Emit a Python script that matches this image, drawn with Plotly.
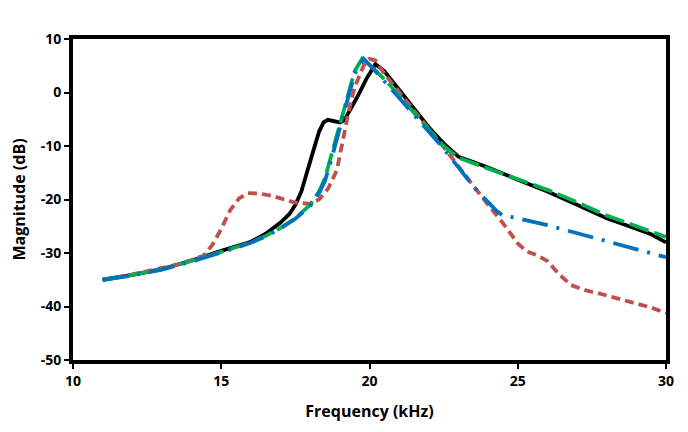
import plotly.graph_objects as go

# Black solid series
black_f = [11, 12, 13, 14, 15, 15.5, 16, 16.5, 17, 17.3, 17.5, 17.7, 17.9, 18.1, 18.3, 18.45, 18.6,
           18.8, 19.0, 19.15, 19.3, 19.6, 19.9, 20.2, 20.5, 21, 21.5, 22, 22.5, 23, 23.5, 24, 25,
           26, 27, 28, 28.5, 29, 29.5, 30]
black_db = [-35, -34.1, -33, -31.4, -29.6, -28.8, -27.9, -26.4, -24.3, -22.7, -21, -18.5, -15,
            -11, -7.3, -5.6, -5.1, -5.3, -5.6, -5.2, -3.8, -0.7, 2.6, 5.3, 4, 0.5, -3, -6.5, -9.5,
            -12, -13, -14, -16.3, -18.5, -21, -23.5, -24.5, -25.5, -26.5, -28]

# Red short-dash series
red_f = [11, 12, 13, 13.5, 14, 14.4, 14.7, 15, 15.3, 15.6, 15.9, 16.3, 16.7, 17.1, 17.5, 18, 18.3,
         18.6, 18.9, 19.1, 19.3, 19.5, 19.8, 20, 20.2, 20.5, 21, 21.5, 22, 22.5, 23, 23.5, 24, 24.5,
         25, 25.3, 25.65, 26, 26.4, 26.8, 27.3, 27.7, 28.3, 29, 29.5, 30]
red_db = [-35, -34, -32.8, -32.2, -31.3, -30.5, -28.5, -25.5, -22, -19.8, -18.8, -18.9, -19.3,
          -19.9, -20.6, -20.8, -20, -18, -14.5, -9, -3.5, 1, 5, 6.3, 6, 3.5, 0, -3.5, -6.8, -10.2,
          -13.8, -17.6, -21, -24.4, -28.2, -29.7, -30.4, -31.5, -34, -36, -37, -37.5, -38.4, -39.4,
          -40.2, -41.2]

# Green long-dash series
green_f = [11, 12, 13, 14, 15, 16, 16.5, 17, 17.5, 18, 18.3, 18.5, 18.7, 18.9, 19.1, 19.3, 19.5,
           19.75, 20, 20.5, 21, 21.5, 22, 22.5, 23, 23.5, 24, 25, 26, 27, 28, 29, 30]
green_db = [-35, -34.1, -33, -31.5, -29.8, -28, -26.8, -25.3, -23.5, -21, -18.5, -16, -12, -8, -4,
            0, 4, 6.3, 5.2, 2.5, -0.5, -3.8, -7, -10, -12.2, -13.2, -14.2, -16.2, -18.2, -20.5,
            -23, -25, -27]

# Blue dash-dot series
blue_f = [11, 12, 13, 14, 15, 16, 16.5, 17, 17.5, 18, 18.3, 18.5, 18.7, 18.9, 19.1, 19.3, 19.5,
          19.8, 20.1, 20.5, 21, 21.5, 22, 22.4, 23, 23.6, 24, 24.3, 24.5, 24.7, 25, 26, 27, 28,
          29, 30]
blue_db = [-35, -34.2, -33.1, -31.6, -29.9, -28.1, -26.9, -25.4, -23.6, -21.2, -18.8, -16.5, -12.8,
           -8.5, -4.5, -0.5, 3.5, 6.3, 4.6, 2, -1, -4.2, -7.4, -9.8, -14, -18.2, -20.5, -22.2,
           -23, -23.2, -23.5, -24.8, -26.3, -27.8, -29.4, -30.8]

x_ticks = [10, 15, 20, 25, 30]
y_ticks = [10, 0, -10, -20, -30, -40, -50]

fig = go.Figure()
fig.add_trace(go.Scatter(x=black_f, y=black_db, mode="lines",
                         line=dict(color="#000000", width=3.8)))
fig.add_trace(go.Scatter(x=red_f, y=red_db, mode="lines",
                         line=dict(color="#C0504D", width=3.8, dash="9px,5px")))
fig.add_trace(go.Scatter(x=green_f, y=green_db, mode="lines",
                         line=dict(color="#00B050", width=3.8, dash="20px,6px")))
fig.add_trace(go.Scatter(x=blue_f, y=blue_db, mode="lines",
                         line=dict(color="#0070C0", width=3.8, dash="26px,9px,3px,9px")))

font = dict(family="Open Sans, Liberation Sans, sans-serif", size=14, color="#000000")
fig.update_layout(
    width=688, height=432,
    margin=dict(l=73, r=22, t=39, b=72),
    paper_bgcolor="white", plot_bgcolor="white",
    showlegend=False,
    font=font,
)
fig.update_xaxes(
    range=[10, 30], tickvals=x_ticks, ticktext=[f"<b>{v}</b>" for v in x_ticks],
    showgrid=False, zeroline=False,
    showline=True, linecolor="black", linewidth=4, mirror=True,
    ticks="outside", ticklen=5, tickwidth=2, tickcolor="black",
    title=dict(text="<b>Frequency (kHz)</b>", font=dict(size=16), standoff=18),
)
fig.update_yaxes(
    range=[-50, 10], tickvals=y_ticks, ticktext=[f"<b>{v}</b>" for v in y_ticks],
    showgrid=False, zeroline=False,
    showline=True, linecolor="black", linewidth=4, mirror=True,
    ticks="outside", ticklen=5, tickwidth=2, tickcolor="black",
    title=dict(text="<b>Magnitude (dB)</b>", font=dict(size=16), standoff=12),
)

fig.write_html("out.html")
